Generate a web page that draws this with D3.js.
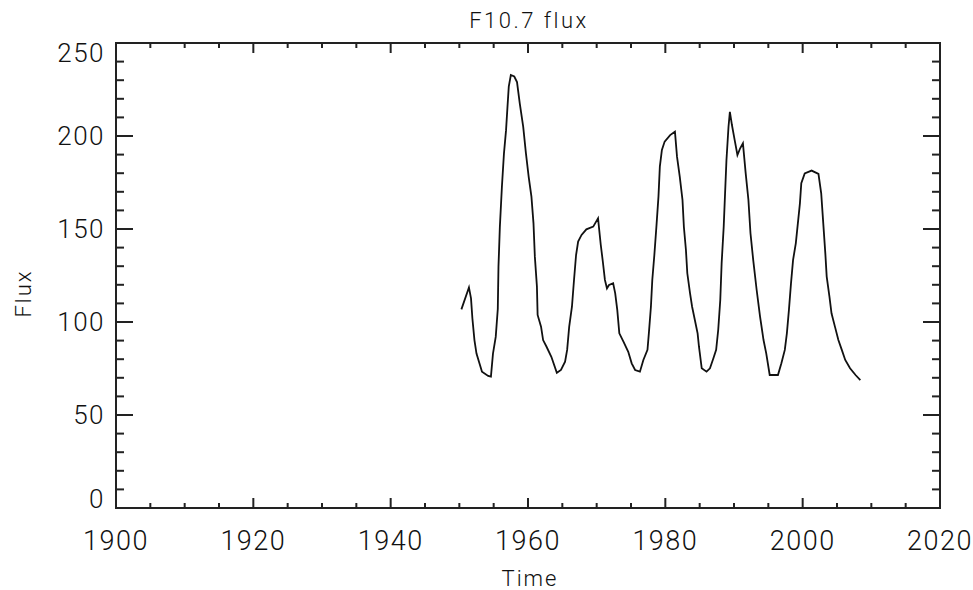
<!DOCTYPE html>
<html>
<head>
<meta charset="utf-8">
<script src="https://cdn.jsdelivr.net/npm/d3@7"></script>
<style>
  body { margin: 0; background: #fff; }
  text { font-family: Roboto, "Liberation Sans", Arial, sans-serif; font-weight: 300; fill: #111; }
</style>
</head>
<body>
<div id="chart"></div>
<script>
// F10.7 flux
const years = [1950.3, 1951.4, 1951.7, 1951.9, 1952.2, 1952.5, 1953.3, 1954.2, 1954.6, 1954.9,
  1955.3, 1955.6, 1955.7, 1955.9, 1956.2, 1956.5, 1956.8, 1957.0, 1957.2, 1957.5,
  1958.0, 1958.4, 1958.8, 1959.3, 1959.7, 1960.1, 1960.5, 1960.8, 1961.0, 1961.3,
  1961.4, 1961.9, 1962.2, 1962.7, 1963.4, 1964.2, 1964.8, 1965.4, 1965.7, 1966.0,
  1966.4, 1966.7, 1967.0, 1967.3, 1967.8, 1968.5, 1969.5, 1970.2, 1970.6, 1970.9,
  1971.2, 1971.5, 1971.8, 1972.4, 1972.7, 1973.0, 1973.3, 1973.9, 1974.6, 1975.1,
  1975.6, 1976.3, 1976.8, 1977.4, 1977.6, 1977.9, 1978.1, 1978.4, 1978.7, 1979.0,
  1979.2, 1979.5, 1979.9, 1980.7, 1981.4, 1981.7, 1982.1, 1982.5, 1982.7, 1983.0,
  1983.2, 1983.6, 1983.9, 1984.3, 1984.7, 1984.9, 1985.3, 1986.0, 1986.5, 1987.0,
  1987.4, 1987.7, 1988.0, 1988.2, 1988.5, 1988.7, 1988.9, 1989.2, 1989.4, 1989.7,
  1990.1, 1990.5, 1990.9, 1991.3, 1991.7, 1992.1, 1992.4, 1992.8, 1993.3, 1993.8,
  1994.3, 1994.7, 1995.2, 1996.4, 1996.9, 1997.4, 1997.7, 1998.0, 1998.3, 1998.6,
  1999.0, 1999.3, 1999.6, 1999.8, 2000.3, 2001.3, 2002.3, 2002.7, 2003.0, 2003.3,
  2003.5, 2003.9, 2004.2, 2004.7, 2005.2, 2005.7, 2006.2, 2006.9, 2007.7, 2008.4]
const flux = [106.8, 118.6, 112.7, 102, 90.3, 83, 73.3, 71, 70.6, 83,
  92, 107, 129.7, 151, 172.7, 190.7, 203, 215, 226.5, 232.8,
  232, 229, 217.6, 205, 190.7, 178, 167.4, 153, 135, 119,
  103.8, 97.5, 90.3, 86.7, 81.3, 72.7, 74.2, 78.7, 85, 97.5,
  108.2, 122.6, 136, 143.2, 146.8, 149.8, 151.3, 155.7, 141.4, 132.4,
  122.6, 118.1, 119.9, 120.8, 115.4, 106.5, 93.9, 89.4, 84, 77.8,
  74.2, 73.3, 79.6, 85, 93.9, 108.2, 122.6, 136, 151.3, 167.4,
  183.5, 192.5, 197, 200.5, 202.3, 188.9, 178.1, 165.6, 151.2, 138.7,
  126.2, 115.4, 108.2, 101.1, 93.9, 86.7, 75.1, 73.3, 75.1, 80.5,
  85, 95.7, 111.8, 131.6, 151.2, 169.2, 187, 205, 213, 205.9,
  197.8, 189.8, 193.4, 196.1, 180, 165.6, 147.7, 133.3, 117.2, 102.8,
  90.3, 83, 71.5, 71.5, 77.8, 85, 93.9, 106.5, 120.8, 133.3,
  142.3, 153, 163.8, 174.6, 179.9, 181.4, 179.6, 169.2, 153, 136.9,
  124.4, 113.6, 104.7, 97.5, 90.3, 85, 79.6, 75.1, 71.5, 68.8]

const xTicks = [1900, 1920, 1940, 1960, 1980, 2000, 2020]
const yTicks = [0, 50, 100, 150, 200, 250]
const title = 'F10.7 flux'

const width = 973, height = 590
const margin = {left: 116, right: 33, top: 43, bottom: 82}

const svg = d3.select('#chart').append('svg')
  .attr('width', width)
  .attr('height', height)

const x = d3.scaleLinear().domain([1900, 2020]).range([margin.left, width - margin.right])
const y = d3.scaleLinear().domain([0, 250]).range([height - margin.bottom, margin.top])

const axisColor = '#222'
const x0 = x.range()[0], x1 = x.range()[1], y0 = y.range()[0], y1 = y.range()[1]

// box
svg.append('rect')
  .attr('x', x0).attr('y', y1)
  .attr('width', x1 - x0).attr('height', y0 - y1)
  .attr('fill', 'none').attr('stroke', axisColor).attr('stroke-width', 2)

// ticks, all pointing inward on all four sides
const xMinor = d3.range(1900, 2021, 5)
const yMinor = d3.range(0, 251, 10)
const ticks = svg.append('g').attr('stroke', axisColor).attr('stroke-width', 2)

xMinor.forEach(v => {
  let len = xTicks.includes(v) ? 10 : 5
  ticks.append('line').attr('x1', x(v)).attr('x2', x(v)).attr('y1', y0).attr('y2', y0 - len)
  ticks.append('line').attr('x1', x(v)).attr('x2', x(v)).attr('y1', y1).attr('y2', y1 + len)
})
yMinor.forEach(v => {
  let len = yTicks.includes(v) ? 17 : 8
  ticks.append('line').attr('y1', y(v)).attr('y2', y(v)).attr('x1', x0).attr('x2', x0 + len)
  ticks.append('line').attr('y1', y(v)).attr('y2', y(v)).attr('x1', x1).attr('x2', x1 - len)
})

// tick labels
svg.append('g').selectAll('text')
  .data(xTicks)
  .enter().append('text')
  .attr('x', d => x(d))
  .attr('y', y0 + 42)
  .attr('text-anchor', 'middle')
  .style('font-size', '27px')
  .style('letter-spacing', '1.5px')
  .text(d => d)

svg.append('g').selectAll('text')
  .data(yTicks)
  .enter().append('text')
  .attr('x', x0 - 11)
  .attr('y', d => {
    if (d === 0) return y(d)
    if (d === 250) return y(d) + 19
    return y(d) + 9
  })
  .attr('text-anchor', 'end')
  .style('font-size', '26px')
  .style('letter-spacing', '1.5px')
  .text(d => d)

// titles
svg.append('text')
  .attr('x', (x0 + x1) / 2 + 1)
  .attr('y', 28)
  .attr('text-anchor', 'middle')
  .style('font-size', '22px')
  .style('letter-spacing', '2.5px')
  .text(title)

svg.append('text')
  .attr('x', (x0 + x1) / 2 + 2)
  .attr('y', 586)
  .attr('text-anchor', 'middle')
  .style('font-size', '22px')
  .style('letter-spacing', '2px')
  .text('Time')

svg.append('text')
  .attr('transform', `translate(31, ${(y0 + y1) / 2 + 18}) rotate(-90)`)
  .attr('text-anchor', 'middle')
  .style('font-size', '22px')
  .style('letter-spacing', '2px')
  .text('Flux')

// the series
const line = d3.line()
  .x((d, i) => x(years[i]))
  .y(d => y(d))

svg.append('path')
  .datum(flux)
  .attr('d', line)
  .attr('fill', 'none')
  .attr('stroke', '#111')
  .attr('stroke-width', 1.8)
  .attr('stroke-linejoin', 'miter')
</script>
</body>
</html>
